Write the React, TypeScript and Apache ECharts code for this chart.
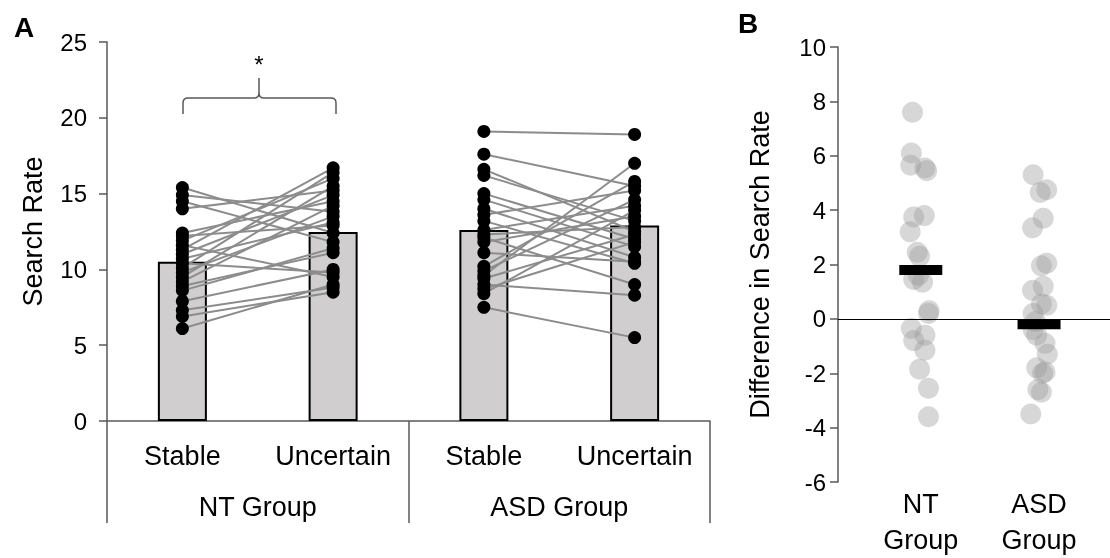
import React, { useEffect, useRef } from "react";
import * as echarts from "echarts";

// ---------- Panel A data ----------
const conditions = ["Stable", "Uncertain", "Stable", "Uncertain"];
const groups = ["NT Group", "ASD Group"];
const barMeans = [10.5, 12.47, 12.6, 12.9];

const ntStable = [15.4, 14.9, 14.5, 14.0, 12.4, 12.2, 11.9, 11.6, 11.3, 11.0, 10.7, 10.4, 10.1, 9.8, 9.5, 9.2, 8.9, 8.6, 7.9, 7.3, 6.9, 6.1];
const ntUncertain = [12.4, 13.8, 11.8, 15.2, 14.5, 12.9, 16.0, 9.5, 16.7, 14.9, 13.1, 9.8, 16.4, 13.5, 15.5, 14.2, 11.1, 11.4, 10.0, 8.8, 8.5, 9.0];

const asdStable = [19.1, 17.6, 16.6, 16.2, 15.0, 14.6, 14.0, 13.6, 13.2, 12.6, 12.3, 12.1, 11.8, 11.1, 10.2, 9.9, 9.6, 9.4, 9.0, 8.7, 8.4, 7.5];
const asdUncertain = [18.9, 15.5, 12.5, 13.2, 12.0, 11.5, 10.8, 15.2, 10.4, 14.2, 12.8, 9.0, 13.5, 10.5, 15.8, 14.6, 17.0, 12.3, 8.3, 11.8, 13.9, 5.5];

// ---------- Panel B data ----------
const bGroupLabels = ["NT\nGroup", "ASD\nGroup"];
const ntDiff = [7.6, 6.1, 5.65, 5.55, 5.45, 3.8, 3.75, 3.2, 2.45, 2.3, 1.6, 1.45, 1.35, 0.3, 0.2, -0.35, -0.6, -0.8, -1.15, -1.85, -2.55, -3.6];
const ntJitter = [-0.07, -0.08, -0.085, 0.035, 0.05, 0.03, -0.06, -0.09, -0.03, -0.01, -0.02, -0.06, 0.015, 0.07, 0.065, -0.08, 0.035, -0.06, 0.035, -0.01, 0.065, 0.065];
const asdDiff = [5.3, 4.75, 4.65, 3.7, 3.35, 2.05, 1.95, 1.2, 1.05, 0.55, 0.5, 0.2, -0.1, -0.4, -0.6, -0.9, -1.3, -1.8, -1.95, -2.0, -2.6, -2.7, -3.5];
const asdJitter = [-0.05, 0.065, 0.01, 0.035, -0.055, 0.065, 0.02, 0.035, -0.055, 0.02, 0.065, -0.05, -0.03, -0.05, -0.02, 0.05, 0.07, -0.02, 0.05, 0.03, -0.01, 0.02, -0.07];
const diffMeans = [1.8, -0.2];

const FONT = "'Liberation Sans', Arial, sans-serif";
const AXIS_COLOR = "#595959";

export default function App() {
  const ref = useRef<HTMLDivElement>(null);

  useEffect(() => {
    if (!ref.current) return;
    echarts.graphic.registerShape(
      "brace",
      echarts.graphic.extendPath(
        "M183,114 L183,103 Q183,98 188,98 L254,98 Q259,98 259,93 L259,78 M259,93 Q259,98 264,98 L331,98 Q336,98 336,103 L336,114",
        {}
      )
    );
    const chart = echarts.init(ref.current, null, { renderer: "svg" });

    const lineSeries: any[] = [];
    ntStable.forEach((s, i) => {
      lineSeries.push({
        type: "line",
        xAxisIndex: 0,
        yAxisIndex: 0,
        data: [[0, s], [1, ntUncertain[i]]],
        symbol: "none",
        silent: true,
        z: 3,
        lineStyle: { color: "#8c8c8c", width: 2 },
      });
    });
    asdStable.forEach((s, i) => {
      lineSeries.push({
        type: "line",
        xAxisIndex: 0,
        yAxisIndex: 0,
        data: [[2, s], [3, asdUncertain[i]]],
        symbol: "none",
        silent: true,
        z: 3,
        lineStyle: { color: "#8c8c8c", width: 2 },
      });
    });

    const dots: number[][] = [];
    ntStable.forEach((v) => dots.push([0, v]));
    ntUncertain.forEach((v) => dots.push([1, v]));
    asdStable.forEach((v) => dots.push([2, v]));
    asdUncertain.forEach((v) => dots.push([3, v]));

    const bDots: number[][] = [];
    ntDiff.forEach((v, i) => bDots.push([1 + ntJitter[i], v]));
    asdDiff.forEach((v, i) => bDots.push([2 + asdJitter[i], v]));

    const labelStyle = { color: "#000", fontSize: 24, fontFamily: FONT };
    const catStyle = { color: "#000", fontSize: 27, fontFamily: FONT };

    chart.setOption({
      animation: false,
      textStyle: { fontFamily: FONT },
      grid: [
        { left: 107, top: 42, width: 603, height: 379, outerBoundsMode: "none", containLabel: false },
        { left: 838, top: 47, width: 272, height: 435, outerBoundsMode: "none", containLabel: false },
      ],
      xAxis: [
        {
          gridIndex: 0,
          type: "category",
          data: conditions,
          axisLine: { lineStyle: { color: AXIS_COLOR, width: 1.5 } },
          axisTick: { show: false },
          axisLabel: { ...catStyle, margin: 21 },
        },
        {
          gridIndex: 0,
          type: "category",
          data: groups,
          position: "bottom",
          axisLine: { show: false },
          axisTick: { show: true, length: 102, lineStyle: { color: AXIS_COLOR, width: 1.5 } },
          axisLabel: { ...catStyle, margin: 72 },
        },
        {
          gridIndex: 1,
          type: "value",
          min: 0.3,
          max: 2.6,
          axisLine: { show: false, onZero: false },
          axisTick: { show: false },
          splitLine: { show: false },
          axisLabel: {
            ...catStyle,
            customValues: [1, 2],
            formatter: (v: number) => bGroupLabels[Math.round(v) - 1] || "",
            lineHeight: 36,
            margin: 4,
            verticalAlign: "top",
          },
        },
      ],
      yAxis: [
        {
          gridIndex: 0,
          type: "value",
          min: 0,
          max: 25,
          interval: 5,
          axisLine: { show: true, lineStyle: { color: AXIS_COLOR, width: 1.5 } },
          axisTick: { show: true, length: 8, lineStyle: { color: AXIS_COLOR, width: 1.5 } },
          splitLine: { show: false },
          axisLabel: { ...labelStyle, margin: 20 },
          name: "Search Rate",
          nameLocation: "middle",
          nameGap: 61,
          nameTextStyle: { ...catStyle },
        },
        {
          gridIndex: 1,
          type: "value",
          min: -6,
          max: 10,
          interval: 2,
          axisLine: { show: true, onZero: false, lineStyle: { color: AXIS_COLOR, width: 1.5 } },
          axisTick: { show: true, length: 8, lineStyle: { color: AXIS_COLOR, width: 1.5 } },
          splitLine: { show: false },
          axisLabel: { ...labelStyle, margin: 12 },
          name: "Difference in Search Rate",
          nameLocation: "middle",
          nameGap: 65,
          nameTextStyle: { ...catStyle },
        },
      ],
      series: [
        {
          type: "bar",
          xAxisIndex: 0,
          yAxisIndex: 0,
          data: barMeans,
          barWidth: 49,
          z: 2,
          itemStyle: { color: "#d0cece", borderColor: "#000", borderWidth: 2 },
        },
        ...lineSeries,
        {
          type: "scatter",
          xAxisIndex: 0,
          yAxisIndex: 0,
          data: dots,
          symbolSize: 13,
          z: 4,
          itemStyle: { color: "#000", opacity: 1 },
        },
        {
          type: "scatter",
          xAxisIndex: 2,
          yAxisIndex: 1,
          data: bDots,
          symbolSize: 21,
          z: 3,
          itemStyle: { color: "#9a9a9a", opacity: 0.4 },
          markLine: {
            silent: true,
            symbol: "none",
            label: { show: false },
            lineStyle: { color: "#000", width: 1.2, type: "solid" },
            data: [{ yAxis: 0 }],
          },
        },
        {
          type: "scatter",
          xAxisIndex: 2,
          yAxisIndex: 1,
          data: diffMeans.map((v, i) => [i + 1, v]),
          symbol: "rect",
          symbolSize: [43, 10],
          z: 5,
          itemStyle: { color: "#000", opacity: 1 },
        },
      ],
      graphic: [
        { type: "text", left: 14, top: 13, style: { text: "A", fontSize: 28, fontWeight: "bold", fill: "#000", fontFamily: FONT } },
        { type: "text", left: 738, top: 9, style: { text: "B", fontSize: 28, fontWeight: "bold", fill: "#000", fontFamily: FONT } },
        { type: "text", x: 259, y: 64, style: { text: "*", fontSize: 24, fill: "#000", fontFamily: FONT, align: "center", verticalAlign: "middle" } },
        { type: "brace", x: 0, y: 0, style: { stroke: AXIS_COLOR, lineWidth: 1.5, fill: null } },
      ],
    });

    return () => chart.dispose();
  }, []);

  return <div ref={ref} style={{ position: "fixed", left: 0, top: 0, width: 1110, height: 558 }} />;
}
